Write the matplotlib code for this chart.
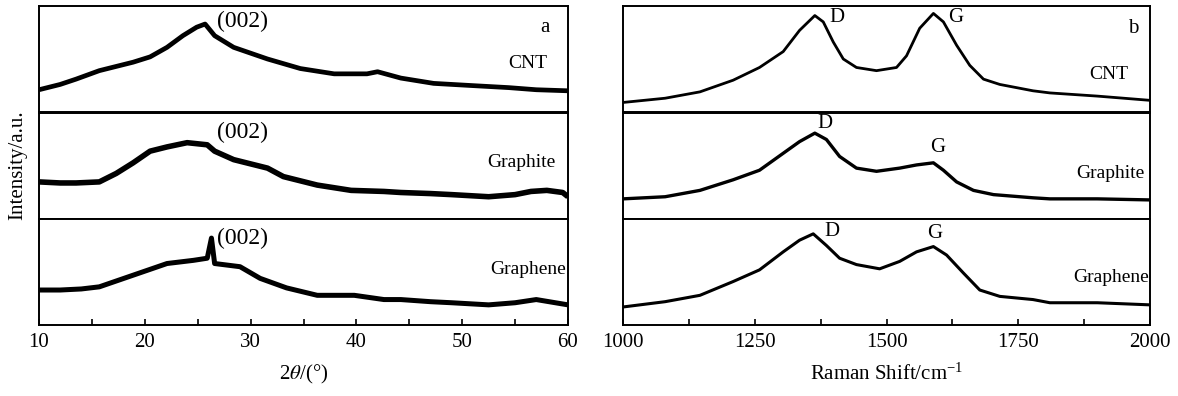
import numpy as np
import matplotlib
matplotlib.use('Agg')
import matplotlib.pyplot as plt

plt.rcParams['font.family'] = ['Liberation Serif', 'DejaVu Serif']
plt.rcParams['mathtext.fontset'] = 'stix'

# ── XRD data (2theta, intensity as fraction of panel height) ──
xrd_cnt_x = [10, 12, 13.5, 15.7, 18.9, 20.5, 22.1, 23.6, 24.9, 25.7, 26.6, 28.4, 31.6, 34.7, 37.9,
             41.0, 42.0, 44.2, 47.3, 50.8, 54.4, 57, 60]
xrd_cnt_y = [0.21, 0.26, 0.31, 0.39, 0.47, 0.52, 0.61, 0.72, 0.80, 0.83, 0.72, 0.61, 0.50, 0.41, 0.36,
             0.36, 0.38, 0.32, 0.27, 0.25, 0.23, 0.21, 0.20]

xrd_gph_x = [10, 12, 13.5, 15.7, 17.3, 18.9, 20.5, 22.1, 24.0, 25.9, 26.6, 28.4, 31.6, 33.1, 36.3,
             39.5, 42.6, 44.2, 47, 49, 52.5, 55, 56.5, 58, 59.5, 60]
xrd_gph_y = [0.35, 0.34, 0.34, 0.35, 0.43, 0.53, 0.64, 0.68, 0.72, 0.70, 0.64, 0.56, 0.48, 0.40, 0.32,
             0.27, 0.26, 0.25, 0.24, 0.23, 0.21, 0.23, 0.26, 0.27, 0.25, 0.21]

xrd_gne_x = [10, 12, 14, 15.7, 18.9, 22.1, 24.6, 25.9, 26.3, 26.6, 29.0, 30.9, 33.4, 36.3, 39.8,
             42.6, 44.2, 47, 49, 52.5, 55, 57, 60]
xrd_gne_y = [0.33, 0.33, 0.34, 0.36, 0.47, 0.58, 0.61, 0.63, 0.82, 0.58, 0.55, 0.44, 0.35, 0.28, 0.28,
             0.24, 0.24, 0.22, 0.21, 0.19, 0.21, 0.24, 0.19]

# ── Raman data (Raman shift in cm-1, intensity as fraction of panel height) ──
ram_cnt_x = [1000, 1080, 1146, 1209, 1259, 1304, 1335, 1364, 1380, 1399, 1418, 1443, 1481, 1519, 1538,
             1563, 1589, 1608, 1633, 1658, 1684, 1715, 1778, 1810, 1900, 2000]
ram_cnt_y = [0.09, 0.13, 0.19, 0.30, 0.42, 0.57, 0.77, 0.91, 0.85, 0.66, 0.50, 0.42, 0.39, 0.42, 0.53,
             0.79, 0.93, 0.85, 0.63, 0.44, 0.31, 0.26, 0.20, 0.18, 0.15, 0.11]

ram_gph_x = [1000, 1080, 1146, 1209, 1259, 1304, 1335, 1364, 1386, 1411, 1443, 1481, 1525, 1557, 1589,
             1608, 1633, 1665, 1703, 1778, 1810, 1900, 2000]
ram_gph_y = [0.19, 0.21, 0.27, 0.37, 0.46, 0.62, 0.73, 0.81, 0.75, 0.59, 0.48, 0.45, 0.48, 0.51, 0.53,
             0.46, 0.35, 0.27, 0.23, 0.20, 0.19, 0.19, 0.18]

ram_gne_x = [1000, 1080, 1146, 1209, 1259, 1304, 1335, 1361, 1386, 1411, 1443, 1487, 1525, 1557, 1589,
             1614, 1646, 1677, 1715, 1778, 1810, 1900, 2000]
ram_gne_y = [0.17, 0.22, 0.28, 0.41, 0.52, 0.69, 0.80, 0.86, 0.75, 0.63, 0.57, 0.53, 0.60, 0.69, 0.74,
             0.66, 0.49, 0.33, 0.27, 0.24, 0.21, 0.21, 0.19]

samples = ['CNT', 'Graphite', 'Graphene']
xrd_series = [(xrd_cnt_x, xrd_cnt_y), (xrd_gph_x, xrd_gph_y), (xrd_gne_x, xrd_gne_y)]
ram_series = [(ram_cnt_x, ram_cnt_y), (ram_gph_x, ram_gph_y), (ram_gne_x, ram_gne_y)]
xrd_lw = [3.4, 4.0, 3.6]
ram_lw = [2.0, 2.4, 2.2]

fig = plt.figure(figsize=(11.78, 3.96), dpi=100)

H = 106 / 396
bottoms = [1 - 112 / 396, 1 - 219 / 396, 1 - 325 / 396]
left_pos = (39 / 1178, (568 - 39) / 1178)
right_pos = (623 / 1178, (1150 - 623) / 1178)


def make_axes(pos, xlim, ticks, minor):
    axs = []
    for i, b in enumerate(bottoms):
        ax = fig.add_axes([pos[0], b, pos[1], H])
        ax.set_xlim(*xlim)
        ax.set_ylim(0, 1)
        ax.set_yticks([])
        for s in ax.spines.values():
            s.set_linewidth(1.4)
        if i < 2:
            ax.set_xticks([])
        else:
            ax.set_xticks(ticks)
            ax.set_xticks(minor, minor=True)
            ax.tick_params(axis='x', which='both', direction='in', length=4, width=1.2,
                           labelsize=15, pad=6)
        axs.append(ax)
    return axs


ax_l = make_axes(left_pos, (10, 60), [10, 20, 30, 40, 50, 60], [15, 25, 35, 45, 55])
ax_r = make_axes(right_pos, (1000, 2000), [1000, 1250, 1500, 1750, 2000], [1125, 1375, 1625, 1875])

for ax, (x, y), lw in zip(ax_l, xrd_series, xrd_lw):
    ax.plot(x, y, color='black', lw=lw, solid_joinstyle='round', solid_capstyle='butt')
for ax, (x, y), lw in zip(ax_r, ram_series, ram_lw):
    ax.plot(x, y, color='black', lw=lw, solid_joinstyle='round', solid_capstyle='butt')

# labels, left panel
peak_y = [0.85, 0.82, 0.82]
name_pos_l = [(58.0, 0.46), (58.8, 0.53), (59.8, 0.52)]
for ax, py, (nx, ny), name in zip(ax_l, peak_y, name_pos_l, samples):
    ax.text(26.8, py, '(002)', fontsize=17, ha='left', va='center')
    ax.text(nx, ny, name, fontsize=14, ha='right', va='center')
ax_l[0].text(57.8, 0.80, 'a', fontsize=15, ha='center', va='center')

# labels, right panel
d_pos = [(1391, 0.89, 'left'), (1383, 0.90, 'center'), (1397, 0.88, 'center')]
g_pos = [(1617, 0.89, 'left'), (1598, 0.67, 'center'), (1592, 0.86, 'center')]
name_pos_r = [(1958, 0.35), (1990, 0.43), (1998, 0.45)]
for ax, d, g, (nx, ny), name in zip(ax_r, d_pos, g_pos, name_pos_r, samples):
    ax.text(d[0], d[1], 'D', fontsize=15, ha=d[2], va='center')
    ax.text(g[0], g[1], 'G', fontsize=15, ha=g[2], va='center')
    ax.text(nx, ny, name, fontsize=14, ha='right', va='center')
ax_r[0].text(1968, 0.79, 'b', fontsize=15, ha='center', va='center')

ax_l[2].set_xlabel(r'2$\theta$/(°)', fontsize=15, labelpad=8)
ax_r[2].set_xlabel(r'Raman Shift/cm$^{\mathregular{-1}}$', fontsize=15, labelpad=8)
fig.text(18 / 1178, 1 - 165 / 396, 'Intensity/a.u.', rotation=90, fontsize=15,
         ha='center', va='center')

fig.savefig('out.png', dpi=100)
